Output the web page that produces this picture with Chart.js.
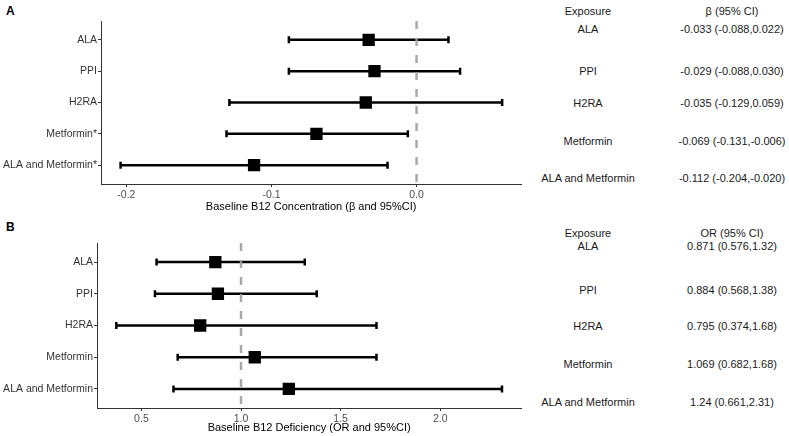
<!DOCTYPE html>
<html>
<head>
<meta charset="utf-8">
<script src="https://cdn.jsdelivr.net/npm/chart.js@4.4.1/dist/chart.umd.min.js"></script>
<style>
  html, body { margin: 0; padding: 0; background: #fff; }
  #wrap { position: relative; width: 789px; height: 436px; font-family: 'Liberation Sans', Arial, sans-serif; }
  canvas { position: absolute; }
  .t { position: absolute; font-size: 11px; color: #1a1a1a; white-space: nowrap; transform: translate(-50%, -50%); }
  .tag { position: absolute; font-size: 12px; font-weight: bold; color: #000; }
</style>
</head>
<body>
<div id="wrap">
  <div class="tag" style="left:6px; top:4px;">A</div>
  <div class="tag" style="left:6px; top:220px;">B</div>
  <canvas id="chartA" width="530" height="215" style="left:0; top:0;"></canvas>
  <canvas id="chartB" width="530" height="221" style="left:0; top:215px;"></canvas>
</div>
<script>
// exposures (top to bottom)
const exposures = ["ALA", "PPI", "H2RA", "Metformin", "ALA and Metformin"];
const labelsA = ["ALA", "PPI", "H2RA", "Metformin*", "ALA and Metformin*"];
const labelsB = ["ALA", "PPI", "H2RA", "Metformin", "ALA and Metformin"];

// panel A: beta and 95% CI
const betaEst = [-0.033, -0.029, -0.035, -0.069, -0.112];
const betaLo  = [-0.088, -0.088, -0.129, -0.131, -0.204];
const betaHi  = [0.022, 0.030, 0.059, -0.006, -0.020];
const betaText = ["-0.033 (-0.088,0.022)", "-0.029 (-0.088,0.030)", "-0.035 (-0.129,0.059)",
                  "-0.069 (-0.131,-0.006)", "-0.112 (-0.204,-0.020)"];
const ticksA = [-0.2, -0.1, 0.0];
const tickLabelsA = ["-0.2", "-0.1", "0.0"];

// panel B: OR and 95% CI
const orEst = [0.871, 0.884, 0.795, 1.069, 1.24];
const orLo  = [0.576, 0.568, 0.374, 0.682, 0.661];
const orHi  = [1.32, 1.38, 1.68, 1.68, 2.31];
const orText = ["0.871 (0.576,1.32)", "0.884 (0.568,1.38)", "0.795 (0.374,1.68)",
                "1.069 (0.682,1.68)", "1.24 (0.661,2.31)"];
const ticksB = [0.5, 1.0, 1.5, 2.0];
const tickLabelsB = ["0.5", "1.0", "1.5", "2.0"];

Chart.defaults.font.family = "'Liberation Sans', Arial, sans-serif";
Chart.defaults.font.size = 11;
Chart.defaults.animation = false;

function forest(id, o) {
    const rows = o.est.map((_, i) => i + 1);
    const datasets = [];
    // reference line (drawn over the bars, under the squares)
    datasets.push({
        data: [{ x: o.ref, y: 0.4 }, { x: o.ref, y: 5.6 }],
        showLine: true, borderColor: 'rgba(160,160,160,0.9)', borderWidth: 2.5,
        borderDash: [8, 9], pointRadius: 0, order: 2
    });
    // CI bars with caps
    rows.forEach((r, i) => {
        datasets.push({
            data: [{ x: o.lo[i], y: r }, { x: o.hi[i], y: r }],
            showLine: true, borderColor: '#000', borderWidth: 2.5,
            pointStyle: 'line', rotation: 90, pointRadius: 3.5,
            pointBorderWidth: 2.5, pointBorderColor: '#000', order: 3
        });
    });
    // estimates
    datasets.push({
        data: rows.map((r, i) => ({ x: o.est[i], y: r })),
        pointStyle: 'rect', pointRadius: 8.7, backgroundColor: '#000',
        borderColor: '#000', borderWidth: 0, order: 1
    });

    return new Chart(document.getElementById(id), {
        type: 'scatter',
        data: { datasets },
        options: {
            responsive: false,
            layout: { padding: { top: o.padTop, right: 7, left: 0, bottom: 0 } },
            plugins: { legend: { display: false }, tooltip: { enabled: false } },
            scales: {
                x: {
                    type: 'linear', min: o.min, max: o.max,
                    afterBuildTicks: s => { s.ticks = o.ticks.map(v => ({ value: v })); },
                    afterFit: s => { s.height = o.xH; },
                    ticks: {
                        color: '#4d4d4d', padding: 2, maxRotation: 0, font: { size: 10.5 },
                        callback: (v, i) => o.tickLabels[i]
                    },
                    grid: { display: true, drawOnChartArea: false, drawTicks: true, tickLength: 3, color: '#333' },
                    border: { display: true, color: '#333', width: 1 },
                    title: { display: true, text: o.title, color: '#000', font: { size: 11 }, padding: { top: 0, bottom: 1 } }
                },
                y: {
                    type: 'linear', min: 0.4, max: 5.6, reverse: true,
                    afterBuildTicks: s => { s.ticks = rows.map(v => ({ value: v })); },
                    afterFit: s => { s.width = o.yW; },
                    ticks: {
                        color: '#333', padding: 1, font: { size: 10.5 },
                        callback: v => o.labels[v - 1]
                    },
                    grid: { display: true, drawOnChartArea: false, drawTicks: true, tickLength: 3, color: '#333' },
                    border: { display: true, color: '#333', width: 1 }
                }
            }
        }
    });
}

forest('chartA', {
    est: betaEst, lo: betaLo, hi: betaHi, ref: 0, labels: labelsA,
    min: -0.2175, max: 0.0722, ticks: ticksA, tickLabels: tickLabelsA,
    title: 'Baseline B12 Concentration (\u03b2 and 95%CI)',
    padTop: 21, xH: 31, yW: 101
});
forest('chartB', {
    est: orEst, lo: orLo, hi: orHi, ref: 1, labels: labelsB,
    min: 0.277, max: 2.407, ticks: ticksB, tickLabels: tickLabelsB,
    title: 'Baseline B12 Deficiency (OR and 95%CI)',
    padTop: 28, xH: 28, yW: 97
});

// side tables
const wrap = document.getElementById('wrap');
function cell(text, x, y) {
    const d = document.createElement('div');
    d.className = 't';
    d.style.left = x + 'px';
    d.style.top = y + 'px';
    d.textContent = text;
    wrap.appendChild(d);
}
const rowYA = [29, 71, 103, 141, 178];
const rowYB = [246, 290, 326, 364, 402];
cell('Exposure', 588, 11);
cell('\u03b2 (95% CI)', 732, 11);
exposures.forEach((e, i) => { cell(e, 588, rowYA[i]); cell(betaText[i], 732, rowYA[i]); });
cell('Exposure', 588, 233);
cell('OR (95% CI)', 732, 233);
exposures.forEach((e, i) => { cell(e, 588, rowYB[i]); cell(orText[i], 732, rowYB[i]); });
</script>
</body>
</html>
